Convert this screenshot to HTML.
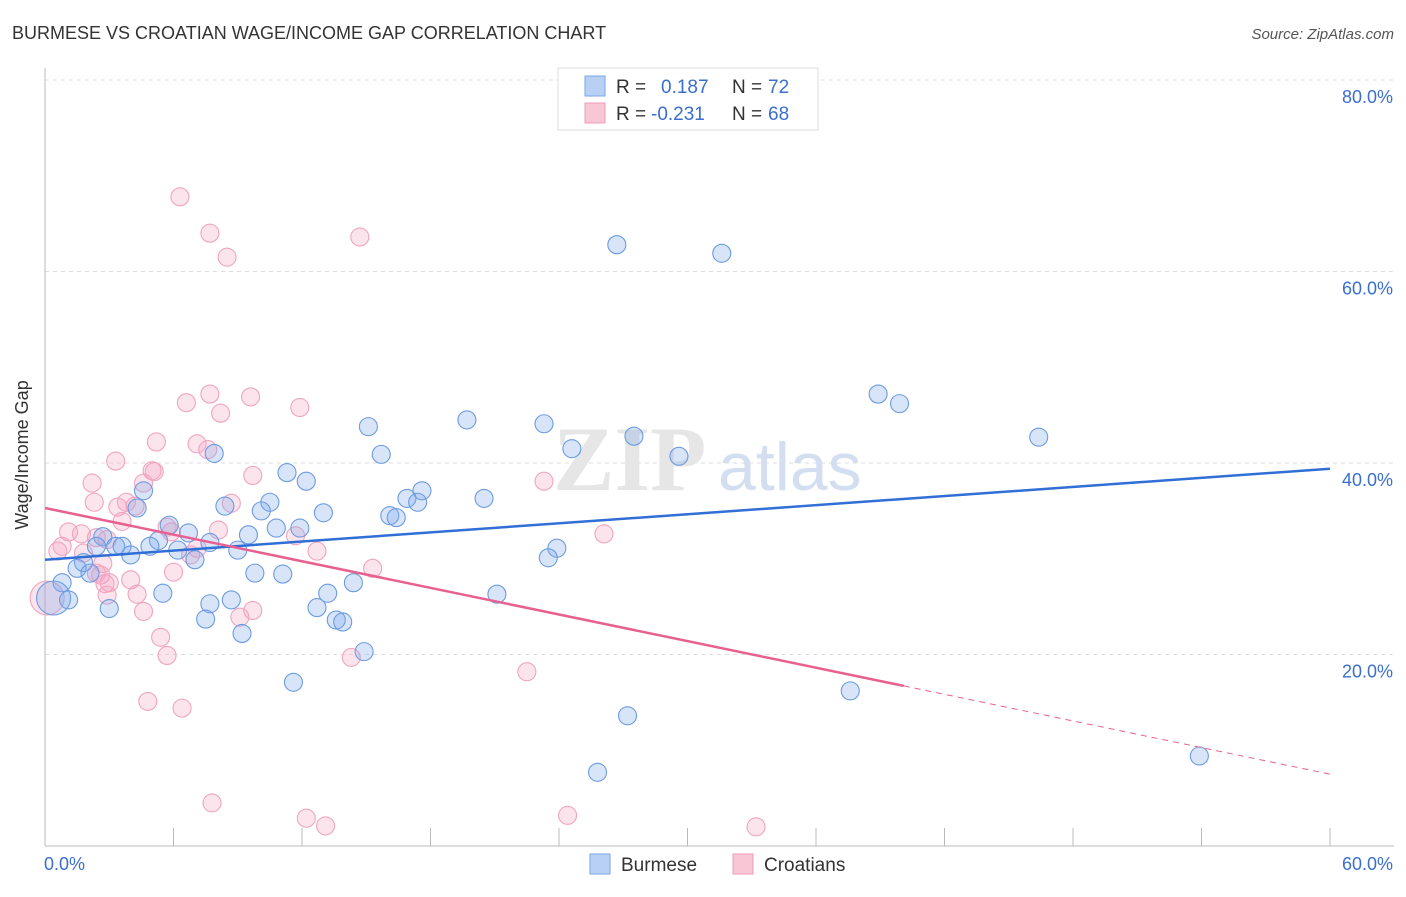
<!DOCTYPE html>
<html><head><meta charset="utf-8"><style>
body{margin:0;background:#fff;font-family:"Liberation Sans",sans-serif;}
</style></head><body>
<svg width="1406" height="892" viewBox="0 0 1406 892" xmlns="http://www.w3.org/2000/svg">
<text x="12" y="39" font-size="18" fill="#333">BURMESE VS CROATIAN WAGE/INCOME GAP CORRELATION CHART</text>
<text x="1394" y="39" font-size="15" fill="#555" font-style="italic" text-anchor="end">Source: ZipAtlas.com</text>
<g id="grid"></g>
<text x="553" y="490" font-size="92" font-family="Liberation Serif" fill="#e6e6e6" font-weight="bold">ZIP</text>
<text x="718" y="490" font-size="68" fill="#d3dff1">atlas</text>
<g id="marks"></g>
<text x="28" y="455" font-size="18" fill="#333" text-anchor="middle" transform="rotate(-90 28 455)">Wage/Income Gap</text>
<g>
<rect x="558" y="68" width="260" height="62" fill="#fff" stroke="#ddd"/>
<rect x="585" y="76" width="20" height="20" fill="#b8d0f4" stroke="#7aa6e6"/>
<rect x="585" y="103" width="20" height="20" fill="#f9c6d6" stroke="#ef9ab8"/>
<text x="616" y="93" font-size="19" fill="#333">R =</text>
<text x="661" y="93" font-size="19" fill="#3a6fd0">0.187</text>
<text x="732" y="93" font-size="19" fill="#333">N =</text>
<text x="768" y="93" font-size="19" fill="#3a6fd0">72</text>
<text x="616" y="120" font-size="19" fill="#333">R =</text>
<text x="651" y="120" font-size="19" fill="#3a6fd0">-0.231</text>
<text x="732" y="120" font-size="19" fill="#333">N =</text>
<text x="768" y="120" font-size="19" fill="#3a6fd0">68</text>
</g>
<g>
<rect x="590" y="854" width="20" height="20" fill="#b8d0f4" stroke="#7aa6e6"/>
<text x="621" y="871" font-size="19" fill="#333">Burmese</text>
<rect x="733" y="854" width="20" height="20" fill="#f9c6d6" stroke="#ef9ab8"/>
<text x="764" y="871" font-size="19" fill="#333">Croatians</text>
</g>
</svg>
<script>
const yTicks=[20,40,60,80];
const yTickLabels=["20.0%","40.0%","60.0%","80.0%"];
const xTickLabels=["0.0%","60.0%"];
const burmeseX=[26.7,31.6,38.9,39.9,46.4,19.7,23.3,15.1,27.5,24.6,29.6,15.7,7.9,11.3,12.2,4.6,17.6,16.9,20.5,17.4,10.5,8.4,4.3,10.1,13.0,16.1,16.4,5.8,10.8,11.9,6.7,2.7,9.5,5.3,2.4,3.3,3.6,4.9,7.7,6.2,9.0,4.0,23.9,23.5,7.0,1.8,1.5,2.1,9.8,11.1,0.8,14.4,5.5,13.2,21.1,0.4,1.1,8.7,7.7,3.0,12.7,7.5,13.6,13.9,9.2,14.9,11.6,37.6,27.2,25.8,53.9];
const burmeseY=[62.8,61.9,47.2,46.2,42.7,44.5,44.1,43.8,42.8,41.5,40.7,40.9,41.0,39.0,38.1,37.1,37.1,36.3,36.3,35.9,35.9,35.5,35.3,35.0,34.8,34.5,34.3,33.5,33.2,33.2,32.7,32.3,32.5,31.9,31.3,31.3,31.3,31.3,31.7,30.9,30.9,30.4,31.1,30.1,29.9,29.6,29.0,28.5,28.5,28.4,27.5,27.5,26.4,26.4,26.3,25.9,25.7,25.7,25.3,24.8,24.9,23.7,23.6,23.4,22.2,20.3,17.1,16.2,13.6,7.7,9.4];
const burmeseSize=[1,1,1,1,1,1,1,1,1,1,1,1,1,1,1,1,1,1,1,1,1,1,1,1,1,1,1,1,1,1,1,1,1,1,1,1,1,1,1,1,1,1,1,1,1,1,1,1,1,1,1,1,1,1,1,2,1,1,1,1,1,1,1,1,1,1,1,1,1,1,1];
const croatX=[6.3,7.7,14.7,8.5,7.7,9.6,6.6,11.9,8.2,5.2,7.1,7.6,3.3,5.0,5.1,9.7,2.2,4.6,23.3,2.3,3.8,3.4,8.7,4.2,3.6,5.7,8.1,5.9,1.1,1.7,26.1,2.4,2.9,11.7,0.8,0.6,1.8,7.1,12.7,6.8,2.7,15.3,6.0,2.4,2.6,4.0,3.0,2.8,4.3,2.9,0.1,4.6,9.7,9.1,5.4,5.7,14.3,22.5,4.8,6.4,7.8,12.2,13.1,24.4,33.2];
const croatY=[67.8,64.0,63.6,61.5,47.2,46.9,46.3,45.8,45.2,42.2,42.0,41.4,40.2,39.2,39.1,38.7,37.9,37.9,38.1,35.9,35.9,35.4,35.8,35.5,33.9,33.3,33.0,32.8,32.8,32.6,32.6,32.2,32.0,32.4,31.3,30.8,30.6,31.1,30.8,30.4,29.5,29.0,28.6,28.5,28.3,27.8,27.5,27.4,26.3,26.2,25.9,24.5,24.6,23.9,21.8,19.9,19.7,18.2,15.1,14.4,4.5,2.9,2.1,3.2,2.0];
const croatSize=[1,1,1,1,1,1,1,1,1,1,1,1,1,1,1,1,1,1,1,1,1,1,1,1,1,1,1,1,1,1,1,1,1,1,1,1,1,1,1,1,1,1,1,1,1,1,1,1,1,1,2,1,1,1,1,1,1,1,1,1,1,1,1,1,1];
const burmeseTrend=[29.9,39.4];
const croatTrend=[35.3,7.5];
const croatSolidEnd=40.1;

const X=v=>45+v/60*1285;
const Y=v=>846-v/20*191.5;
const NS="http://www.w3.org/2000/svg";
function mk(tag,attrs,parent){const e=document.createElementNS(NS,tag);for(const k in attrs)e.setAttribute(k,attrs[k]);parent.appendChild(e);return e;}
const grid=document.getElementById('grid');
const marks=document.getElementById('marks');
yTicks.forEach((t,i)=>{
  const l=mk('line',{x1:45,x2:1394,y1:Y(t),y2:Y(t),stroke:'#ddd','stroke-dasharray':'4,4'},grid);
  
  
  const tx=mk('text',{x:1393,y:Y(t)+23,'font-size':18,fill:'#3a6fd0','text-anchor':'end'},grid);
  tx.textContent=yTickLabels[i];
  
  
});
const ax=mk('line',{x1:45,x2:45,y1:68,y2:846,stroke:'#bbb'},grid);


const bx=mk('line',{x1:45,x2:1394,y1:846,y2:846,stroke:'#bbb'},grid);


for(let i=0;i<=10;i++){
  const t=mk('line',{x1:X(i*6),x2:X(i*6),y1:828,y2:846,stroke:'#bbb'},grid);
  
  
}
const xl0=mk('text',{x:44,y:870,'font-size':18,fill:'#3a6fd0'},grid);xl0.textContent=xTickLabels[0];


const xl1=mk('text',{x:1393,y:870,'font-size':18,fill:'#3a6fd0','text-anchor':'end'},grid);xl1.textContent=xTickLabels[1];



function pts(xs,ys,sz,fill,stroke,name){
  xs.forEach((x,i)=>{
    const c=mk('circle',{cx:X(x),cy:Y(ys[i]),r:sz[i]>1?17:9,fill:fill,stroke:stroke,'stroke-width':1.1},marks);
    
    
  });
}
pts(croatX,croatY,croatSize,'rgba(244,165,195,0.3)','#f0a4c0','croatians-point');
pts(burmeseX,burmeseY,burmeseSize,'rgba(125,170,235,0.3)','#6c9be0','burmese-point');
const bl=mk('line',{x1:X(0),y1:Y(burmeseTrend[0]),x2:X(60),y2:Y(burmeseTrend[1]),stroke:'#2f6fd6','stroke-width':2.5},marks);


const cy=x=>croatTrend[0]+(croatTrend[1]-croatTrend[0])*x/60;
const cl=mk('line',{x1:X(0),y1:Y(cy(0)),x2:X(croatSolidEnd),y2:Y(cy(croatSolidEnd)),stroke:'#e8608f','stroke-width':2.5},marks);


const cd=mk('line',{x1:X(croatSolidEnd),y1:Y(cy(croatSolidEnd)),x2:X(60),y2:Y(cy(60)),stroke:'#e8608f','stroke-width':1,'stroke-dasharray':'6,5'},marks);


</script>
</body></html>
